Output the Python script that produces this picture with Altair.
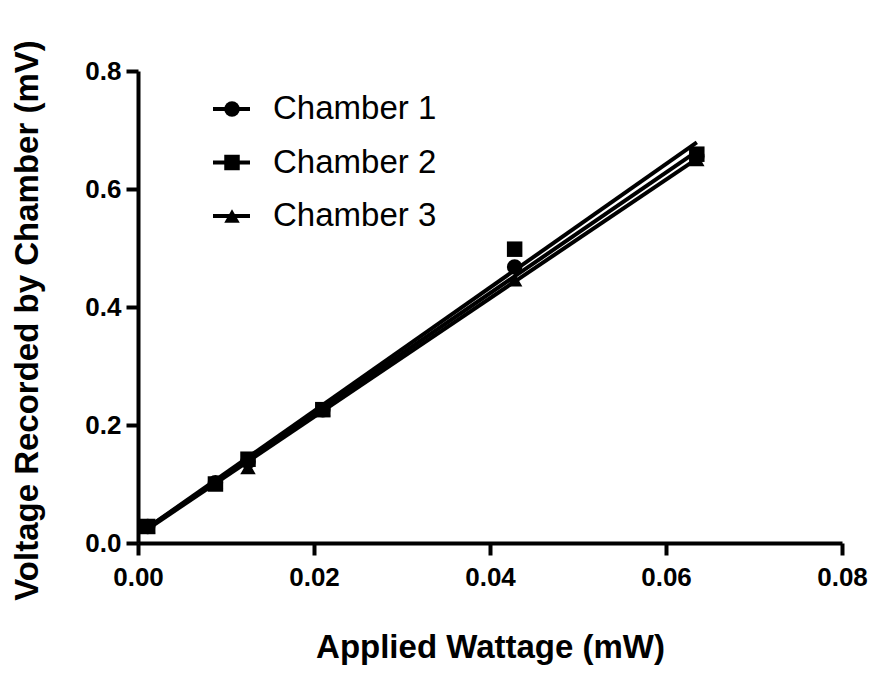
import altair as alt
import pandas as pd

# Data
wattage = [0.0011, 0.0088, 0.0125, 0.021, 0.0428, 0.0635]
chamber1 = [0.028, 0.102, 0.138, 0.226, 0.468, 0.655]
chamber2 = [0.028, 0.100, 0.142, 0.226, 0.498, 0.659]
chamber3 = [0.028, 0.103, 0.128, 0.226, 0.446, 0.650]
chambers = ["Chamber 1", "Chamber 2", "Chamber 3"]
shapes = ["circle", "square", "triangle-up"]

rows = []
for name, vals in zip(chambers, [chamber1, chamber2, chamber3]):
    for xv, yv in zip(wattage, vals):
        rows.append({"chamber": name, "watt": xv, "volt": yv})
df = pd.DataFrame(rows)
legend_df = pd.DataFrame({"chamber": chambers})

FONT = "Liberation Sans"
shape_scale = alt.Scale(domain=chambers, range=shapes)

x_enc = alt.X(
    "watt:Q",
    title="Applied Wattage (mW)",
    scale=alt.Scale(domain=[0, 0.08], nice=False, zero=False),
    axis=alt.Axis(values=[0, 0.02, 0.04, 0.06, 0.08], format=".2f", grid=False,
                  labelFontSize=26, labelPadding=9, titleFontSize=33, titlePadding=41,
                  labelFlush=False),
)
y_enc = alt.Y(
    "volt:Q",
    title="Voltage Recorded by Chamber (mV)",
    scale=alt.Scale(domain=[0, 0.8], nice=False),
    axis=alt.Axis(values=[0, 0.2, 0.4, 0.6, 0.8], format=".1f", grid=False,
                  labelFontSize=26, labelPadding=5, titleFontSize=33, titlePadding=40,
                  titleY=249),
)

base = alt.Chart(df)

lines = base.transform_regression(
    "watt", "volt", groupby=["chamber"]
).mark_line(color="black", strokeWidth=4).encode(
    x=x_enc, y=y_enc, detail="chamber:N"
)

points = base.mark_point(filled=True, color="black", opacity=1, size=240).encode(
    x=x_enc,
    y=y_enc,
    shape=alt.Shape("chamber:N", scale=shape_scale, legend=None),
)

main = alt.layer(lines, points)

leg_y = alt.Y("chamber:N", scale=alt.Scale(type="point", range=[38, 145], padding=0), axis=None)
leg_base = alt.Chart(legend_df)
leg_rule = leg_base.mark_rule(color="black", strokeWidth=4).encode(
    x=alt.value(75), x2=alt.value(112), y=leg_y
)
leg_pts = leg_base.mark_point(filled=True, color="black", opacity=1, size=240).encode(
    x=alt.value(94), y=leg_y,
    shape=alt.Shape("chamber:N", scale=shape_scale, legend=None),
)
leg_txt = leg_base.mark_text(align="left", baseline="middle", font=FONT, fontSize=33,
                             color="black").encode(
    x=alt.value(135), y=leg_y, text="chamber:N"
)
legend = alt.layer(leg_rule, leg_pts, leg_txt)

chart = alt.layer(main, legend).resolve_scale(y="independent").properties(
    width=704, height=472,
    autosize=alt.AutoSizeParams(type="none"),
    padding={"left": 130, "top": 63, "right": 28, "bottom": 124},
).configure_axis(
    domainColor="black", domainWidth=4, tickColor="black", tickWidth=4, tickSize=12,
    labelFont=FONT, labelFontWeight="bold", labelColor="black",
    titleFont=FONT, titleFontWeight="bold", titleColor="black",
).configure_view(stroke=None)

chart.save("out.html", embed_options={"renderer": "svg", "actions": False})
